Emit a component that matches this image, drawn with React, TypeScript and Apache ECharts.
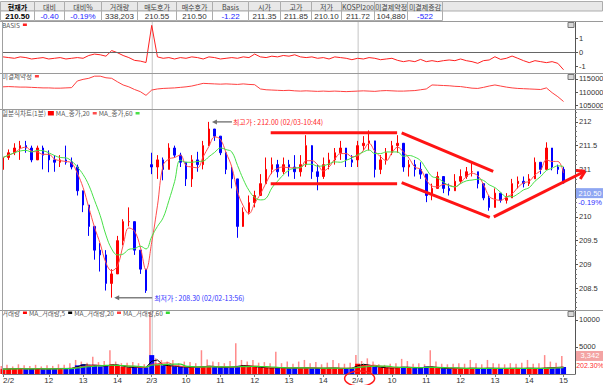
import React, { useEffect, useRef } from 'react';
import * as echarts from 'echarts';

// ---------------- categories (10-minute buckets) ----------------
const dayLabels = ['2/2', '2/3', '2/4'];
const dayFirstBar = ['10:40', '09:00', '09:00'];
const dayBarCounts = [26, 36, 37];
const emptyBars = ['2/4 15:10', '2/4 15:20'];

const xTickLabels: Record<string, string> = {
  '2/2 10:40': '2/2', '2/2 12:00': '12', '2/2 13:00': '13', '2/2 14:00': '14',
  '2/3 09:00': '2/3', '2/3 10:00': '10', '2/3 11:00': '11', '2/3 12:00': '12', '2/3 13:00': '13', '2/3 14:00': '14',
  '2/4 09:00': '2/4', '2/4 10:00': '10', '2/4 11:00': '11', '2/4 12:00': '12', '2/4 13:00': '13', '2/4 14:00': '14', '2/4 15:00': '15',
};

// ---------------- price (per day) ----------------
const dayOpen = [211.0, 211.1, 211.2];
const close22 = [211.25, 211.35, 211.45, 211.5, 211.45, 211.2, 211.45, 211.3, 211.2, 211.15, 211.2, 211.15, 211.05, 210.55, 210.25, 209.8, 209.3, 209.2, 208.6, 208.8, 209.5, 209.9, 209.9, 209.3, 208.9, 208.45];
const high22 = [211.3, 211.42, 211.55, 211.6, 211.6, 211.5, 211.5, 211.5, 211.4, 211.3, 211.3, 211.5, 211.25, 211.1, 210.55, 210.1, 209.75, 209.45, 209.3, 208.9, 209.6, 209.95, 210.2, 209.9, 209.3, 208.9];
const low22 = [210.8, 211.2, 211.3, 211.2, 211.35, 211.15, 211.2, 211.0, 210.94, 210.95, 211.05, 211.1, 211.0, 210.45, 210.1, 209.6, 209.1, 208.85, 208.45, 208.3, 208.8, 209.4, 209.8, 209.2, 208.8, 208.4];

const close23 = [211.05, 211.2, 211.0, 211.45, 211.3, 211.15, 210.8, 211.2, 211.1, 211.5, 211.85, 211.7, 211.35, 211.0, 210.8, 209.8, 210.1, 210.3, 210.45, 210.7, 211.0, 211.1, 210.95, 211.1, 211.05, 210.95, 211.1, 211.5, 210.95, 210.85, 211.1, 211.2, 211.35, 211.45, 211.2, 211.15];
const high23 = [211.35, 211.3, 211.25, 211.55, 211.5, 211.35, 211.15, 211.3, 211.37, 211.6, 212.0, 211.85, 211.7, 211.3, 211.05, 210.45, 210.2, 210.45, 210.55, 210.9, 211.25, 211.25, 211.2, 211.25, 211.2, 211.3, 211.3, 211.72, 211.45, 211.1, 211.25, 211.35, 211.45, 211.6, 211.45, 211.3];
const low23 = [210.9, 210.8, 210.77, 211.0, 211.25, 211.05, 210.65, 210.63, 210.95, 211.0, 211.55, 211.6, 211.3, 210.9, 210.6, 209.56, 209.9, 210.05, 210.2, 210.45, 210.7, 210.9, 210.83, 210.9, 210.85, 210.8, 210.85, 211.05, 210.8, 210.56, 210.8, 211.0, 211.1, 211.2, 211.05, 211.05];

const close24 = [211.5, 211.55, 211.6, 211.0, 211.2, 211.35, 211.5, 211.55, 211.05, 211.1, 211.0, 210.9, 210.45, 210.6, 210.85, 210.6, 210.55, 210.75, 210.85, 210.95, 210.95, 210.7, 210.4, 210.2, 210.5, 210.35, 210.4, 210.7, 210.75, 210.7, 210.8, 211.15, 211.0, 211.45, 211.05, 211.0, 210.72];
const high24 = [211.6, 211.7, 211.82, 211.5, 211.3, 211.45, 211.6, 211.72, 211.5, 211.2, 211.2, 211.15, 210.85, 210.7, 210.95, 210.8, 210.7, 210.9, 211.0, 211.05, 211.15, 210.95, 210.7, 210.45, 210.6, 210.5, 210.5, 210.8, 210.85, 210.85, 210.9, 211.25, 211.15, 211.57, 211.3, 211.1, 211.05];
const low24 = [211.05, 211.4, 211.4, 210.83, 210.9, 211.1, 211.3, 211.35, 210.95, 210.85, 210.85, 210.8, 210.31, 210.35, 210.7, 210.5, 210.45, 210.55, 210.7, 210.8, 210.85, 210.6, 210.35, 210.13, 210.2, 210.3, 210.28, 210.4, 210.6, 210.62, 210.65, 210.8, 210.9, 211.0, 210.98, 210.9, 210.7];

// ---------------- BASIS ----------------
const basis22 = [-0.3, -0.35, -0.4, -0.3, -0.35, -0.45, -0.4, -0.35, -0.45, -0.4, -0.35, -0.45, -0.4, -0.35, -0.4, -0.2, -0.1, -0.15, -0.25, 0.15, 0.0, -0.2, -0.35, -0.55, -0.6, -0.7];
const basis23 = [1.95, -0.3, -0.4, -0.35, -0.45, -0.35, -0.4, -0.3, -0.35, -0.45, -0.3, -0.35, -0.45, -0.4, -0.35, -0.4, -0.3, -0.35, -0.1, -0.3, -0.35, -0.25, -0.3, -0.2, -0.25, -0.15, -0.3, -0.35, -0.3, -0.4, -0.35, -0.45, -0.3, -0.35, -0.4, -0.5];
const basis24 = [-0.4, -0.45, -0.35, -0.4, -0.5, -0.45, -0.4, -0.55, -0.64, -0.57, -0.64, -0.48, -0.64, -0.57, -0.64, -0.57, -0.52, -0.57, -0.45, -0.57, -0.64, -0.76, -0.57, -0.52, -0.29, -0.48, -0.4, -0.24, -0.4, -0.57, -0.71, -0.57, -0.64, -0.71, -0.64, -0.76, -1.22];

// ---------------- open interest ----------------
const oi22 = [112000, 112100, 112000, 111900, 111900, 111800, 111700, 111600, 111600, 111500, 111500, 111600, 111700, 114200, 114800, 115200, 116000, 116000, 115400, 115200, 113900, 112700, 112000, 111000, 110200, 108800];
const oi23 = [110800, 111200, 111400, 111500, 111600, 111800, 112000, 112300, 112800, 113300, 113200, 113100, 113000, 113100, 113000, 112900, 113100, 112900, 112800, 111200, 110900, 110800, 110700, 110600, 110700, 110500, 110400, 110500, 110400, 110300, 110400, 110300, 110400, 110300, 110200, 110300];
const oi24 = [110400, 110500, 110400, 110300, 110500, 110600, 110500, 110400, 110400, 110500, 110600, 110900, 111200, 112700, 112600, 112500, 112400, 112200, 112100, 111800, 111500, 111400, 111800, 112300, 112700, 112300, 111900, 111600, 111400, 111300, 111200, 111100, 111000, 111600, 109800, 108300, 106500];

// ---------------- volume (per-minute scale) ----------------
const volBase22 = [900, 950, 1000, 1050, 900, 950, 1000, 900, 950, 1000, 1050, 1000, 1100, 1600, 1800, 1500, 1700, 1400, 1500, 1800, 1600, 1300, 1200, 1300, 1150, 1250];
const volPeak22 = [1500, 1700, 1400, 1800, 1600, 1500, 1700, 1400, 1600, 1500, 1800, 1700, 2000, 2600, 2300, 2100, 3200, 2200, 2400, 4400, 2300, 2000, 2100, 2200, 2000, 1800];
const volBase23 = [3500, 1700, 1600, 1500, 1400, 1300, 1200, 1300, 1250, 1400, 1500, 1300, 1200, 1250, 1300, 1500, 1600, 1450, 1300, 1200, 1150, 1100, 1200, 1100, 1050, 1150, 1100, 1200, 1050, 1100, 1000, 1150, 1100, 1000, 1050, 1100];
const volPeak23 = [11500, 2900, 2600, 2300, 2600, 2000, 2300, 2200, 2000, 4400, 2700, 2300, 2200, 2000, 2400, 5700, 2600, 2300, 2600, 2100, 2200, 2000, 4100, 2000, 2300, 1900, 2300, 2600, 2000, 2200, 1800, 2100, 2600, 2000, 1900, 2100];
const volBase24 = [1900, 1700, 1600, 1300, 1200, 1150, 1100, 1250, 1300, 1200, 1150, 1100, 1400, 1300, 1100, 1050, 1000, 1100, 1000, 1050, 1100, 1000, 1050, 1100, 1000, 1050, 1000, 1100, 1000, 1050, 1100, 1000, 1050, 1150, 1200, 1250, 1300];
const volPeak24 = [3500, 2400, 2900, 2300, 1800, 1700, 1900, 2000, 2800, 2400, 1900, 2000, 1800, 4400, 2300, 1900, 1800, 1900, 2000, 1900, 2600, 2000, 1800, 2600, 2000, 1900, 1800, 2000, 1900, 2100, 2600, 1900, 2000, 3500, 2300, 2100, 3342];

// ---------------- axis tick labels ----------------
const basisTicks = [-1, 0, 1];
const oiTicks = [105000, 110000, 115000];
const priceTicks = [208.5, 209, 209.5, 210, 210.5, 211, 211.5, 212];
const priceTickLabels = [208.5, 209, 209.5, 210, 211, 211.5, 212]; // 210.5 sits under the current-price box
const volTicks = [5000, 10000];

// ---------------- quote table ----------------
const tableHeaders = ['현재가', '대비', '대비%', '거래량', '매도호가', '매수호가', 'Basis', '시가', '고가', '저가', 'KOSPI200', '미결제약정', '미결제증감'];
const tableValues = ['210.50', '-0.40', '-0.19%', '338,203', '210.55', '210.50', '-1.22', '211.35', '211.85', '210.10', '211.72', '104,880', '-522'];

const lastPrice = 210.5;
const lastChangePct = '-0.19%';
const lastVolume = 3342;
const lastVolumeRatio = '202.30%';
const highNote = { text: '최고가 : 212.00 (02/03-10:44)', price: 212.0, cat: '2/3 10:40' };
const lowNote = { text: '최저가 : 208.30 (02/02-13:56)', price: 208.3, cat: '2/2 13:50' };

// trend lines drawn by hand on the chart: [catIndex, price] pairs
const trendLines: [number, number, number, number][] = [
  [46.8, 211.77, 68.9, 211.77],
  [46.8, 210.7, 68.9, 210.7],
  [69.7, 211.77, 85.7, 210.96],
  [69.7, 210.72, 85.1, 209.99],
];
const trendArrow: [number, number, number, number] = [85.8, 210.0, 101.75, 210.96];

// ---------------- helpers ----------------
function buildCategories() {
  const out: string[] = [];
  dayLabels.forEach((d, k) => {
    const [h, m] = dayFirstBar[k].split(':').map(Number);
    let t = h * 60 + m;
    for (let i = 0; i < dayBarCounts[k]; i++, t += 10) {
      out.push(`${d} ${String(Math.floor(t / 60)).padStart(2, '0')}:${String(t % 60).padStart(2, '0')}`);
    }
  });
  return out.concat(emptyBars);
}

function movingAvg(values: number[], n: number) {
  return values.map((_, i) => {
    const s = Math.max(0, i - n + 1);
    let sum = 0;
    for (let j = s; j <= i; j++) sum += values[j];
    return +(sum / (i - s + 1)).toFixed(3);
  });
}

const FONT = '"Noto Sans CJK KR", "Noto Sans", sans-serif';
const NUMFONT = '"Liberation Sans", "DejaVu Sans", sans-serif';

export default function App() {
  const ref = useRef<HTMLDivElement>(null);

  useEffect(() => {
    document.body.style.margin = '0';
    const el = ref.current!;
    const chart = echarts.init(el, undefined, { renderer: 'svg' });

    const categories = buildCategories();
    const closes = [...close22, ...close23, ...close24];
    const highs = [...high22, ...high23, ...high24];
    const lows = [...low22, ...low23, ...low24];
    const dayOfBar: number[] = [];
    dayBarCounts.forEach((c, k) => { for (let i = 0; i < c; i++) dayOfBar.push(k); });
    const opens = closes.map((_, i) => (i === 0 || dayOfBar[i] !== dayOfBar[i - 1] ? dayOpen[dayOfBar[i]] : closes[i - 1]));
    const candles = closes.map((c, i) => [opens[i], c, lows[i], highs[i]]);
    const basis = [...basis22, ...basis23, ...basis24];
    const oi = [...oi22, ...oi23, ...oi24];
    const volBase = [...volBase22, ...volBase23, ...volBase24];
    const volPeak = [...volPeak22, ...volPeak23, ...volPeak24];
    const volItems = volBase.map((v, i) => ({ value: v, itemStyle: { color: closes[i] >= opens[i] ? '#ff0000' : '#0000ff' } }));

    const tickShow = (_i: number, v: string) => xTickLabels[v] !== undefined;
    const gridCommon = { left: 3, right: 28, outerBoundsMode: 'none', containLabel: false };
    const grids = [
      { ...gridCommon, top: 22, height: 51 },
      { ...gridCommon, top: 73.5, height: 36 },
      { ...gridCommon, top: 110, height: 200 },
      { ...gridCommon, top: 310, height: 64 },
    ];
    const xAxes = [0, 1, 2, 3].map((g) => ({
      type: 'category',
      gridIndex: g,
      data: categories,
      boundaryGap: false,
      show: g === 3,
      axisLine: { show: true, lineStyle: { color: '#7a7a7a' } },
      axisTick: { show: true, interval: tickShow, length: 3, lineStyle: { color: '#7a7a7a' } },
      axisLabel: {
        show: true,
        interval: tickShow,
        formatter: (v: string) => xTickLabels[v] ?? '',
        fontSize: 8,
        fontFamily: NUMFONT,
        color: '#333',
        margin: 2,
        alignMinLabel: 'left',
      },
      splitLine: { show: false },
    }));
    const yCommon = (g: number, min: number, max: number, ticks: number[], labels: number[]) => ({
      type: 'value',
      gridIndex: g,
      position: 'right',
      min,
      max,
      scale: true,
      axisLine: { show: true, lineStyle: { color: '#555' } },
      axisTick: { show: true, length: 3, customValues: ticks, lineStyle: { color: '#555' } },
      axisLabel: { show: true, customValues: labels, formatter: (v: number) => String(v), fontSize: 7.5, fontFamily: NUMFONT, color: '#333', margin: 4 },
      splitLine: { show: false },
    });
    const minorTicks: number[] = [];
    for (let v = 2081; v <= 2122; v++) if (v % 5 !== 0) minorTicks.push(v / 10);
    const yAxes = [
      yCommon(0, -1.45, 2.19, basisTicks, basisTicks),
      yCommon(1, 103500, 117000, oiTicks, oiTicks),
      yCommon(2, 208.04, 212.25, priceTicks, priceTickLabels),
      yCommon(3, 0, 11850, volTicks, volTicks),
      {
        type: 'value', gridIndex: 2, position: 'right', min: 208.04, max: 212.25,
        axisLine: { show: false },
        axisTick: { show: true, length: 2, customValues: minorTicks, lineStyle: { color: '#777' } },
        axisLabel: { show: false },
        splitLine: { show: false },
      },
    ];

    const legendCommon = {
      orient: 'horizontal', align: 'right', icon: 'rect', itemWidth: 4, itemHeight: 2.5, itemGap: 2, padding: 0,
      selectedMode: false, left: 2,
      textStyle: { fontSize: 6.5, color: '#555', fontFamily: FONT, padding: [0, -2, 0, 0] },
    };
    const legends = [
      { ...legendCommon, top: 21.5, data: ['BASIS'] },
      { ...legendCommon, top: 73, data: ['미결제약정'] },
      { ...legendCommon, top: 110, data: ['일분식차트(1분)', 'MA_종가,20', 'MA_종가,60'] },
      { ...legendCommon, top: 309.5, data: ['거래량', 'MA_거래량,5', 'MA_거래량,20', 'MA_거래량,60'] },
    ];

    const lineSeries = (name: string, xi: number, data: number[], color: string, width = 1, extra: any = {}) => ({
      name, type: 'line', xAxisIndex: xi, yAxisIndex: xi, data, symbol: 'none',
      itemStyle: { color }, lineStyle: { color, width }, ...extra,
    });

    const option: any = {
      animation: false,
      backgroundColor: '#ffffff',
      grid: grids,
      legend: legends,
      xAxis: xAxes,
      yAxis: yAxes,
      series: [
        lineSeries('BASIS', 0, basis, '#ff2020', 1, {
          z: 3,
          markLine: { silent: true, symbol: 'none', label: { show: false }, lineStyle: { color: '#666', type: 'solid', width: 1 }, data: [{ yAxis: 0 }] },
        }),
        lineSeries('미결제약정', 1, oi, '#ff4040'),
        {
          name: '일분식차트(1분)', type: 'candlestick', xAxisIndex: 2, yAxisIndex: 2, data: candles, barWidth: 2,
          itemStyle: { color: '#ff0000', color0: '#0000ff', borderColor: '#ff0000', borderColor0: '#0000ff', borderWidth: 1 },
        },
        lineSeries('MA_종가,20', 2, movingAvg(closes, 3), '#ff4c4c', 1, { smooth: 0.4, z: 3 }),
        lineSeries('MA_종가,60', 2, movingAvg(closes, 6), '#48e048', 1, { smooth: 0.4, z: 3 }),
        { name: '거래량최대', type: 'bar', xAxisIndex: 3, yAxisIndex: 3, data: volPeak, barWidth: 1.5, barGap: '-100%', itemStyle: { color: '#ff8a8a' } },
        { name: '거래량', type: 'bar', xAxisIndex: 3, yAxisIndex: 3, data: volItems, barWidth: 5, barGap: '-100%', itemStyle: { color: '#ff0000' } },
        lineSeries('MA_거래량,5', 3, movingAvg(volBase, 2), '#000000'),
        lineSeries('MA_거래량,20', 3, movingAvg(volBase, 4), '#ff4040'),
        lineSeries('MA_거래량,60', 3, movingAvg(volBase, 6), '#30d830', 1.2, { smooth: 0.4 }),
      ],
    };
    chart.setOption(option);

    // ---------- overlays positioned through the chart's own scales ----------
    const P = (i: number, v: number) => chart.convertToPixel({ seriesIndex: 2 }, [i, v]) as number[];
    const x0 = P(0, 210)[0];
    const x100 = P(100, 210)[0];
    const X = (i: number) => x0 + ((x100 - x0) * i) / 100;
    const Y = (v: number) => P(0, v)[1];
    const VY = (v: number) => (chart.convertToPixel({ seriesIndex: 6 }, [0, v]) as number[])[1];

    const G: any[] = [];
    const txt = (x: number, y: number, t: string, fill: string, size = 8, align = 'left', weight = 'normal', fam = FONT, z = 100) => ({
      type: 'text', x, y, silent: true, z,
      style: { text: t, fill, font: `${weight} ${size}px ${fam}`, textAlign: align, align, textVerticalAlign: 'middle', verticalAlign: 'middle' },
    });
    const ln = (x1: number, y1: number, x2: number, y2: number, stroke: string, w = 1, z = 100) => ({
      type: 'line', silent: true, z, shape: { x1, y1, x2, y2 }, style: { stroke, lineWidth: w },
    });
    const box = (x: number, y: number, w: number, h: number, fill: string, stroke?: string, z = 99) => ({
      type: 'polygon', silent: true, z,
      shape: { points: [[x, y], [x + w, y], [x + w, y + h], [x, y + h]] },
      style: stroke ? { fill, stroke, lineWidth: 1 } : { fill },
    });

    // quote table
    const colEdges = [0, 34, 64, 101, 137, 176, 212, 248, 280, 311, 341, 374, 407, 442];
    G.push(box(442.5, 1.5, 160, 9.5, '#e8e8e8', '#adadad'));
    tableHeaders.forEach((h, i) => {
      const a = colEdges[i] + 0.5, b = colEdges[i + 1] + 0.5;
      G.push(box(a, 1.5, b - a, 9.5, '#e8e8e8', '#adadad'));
      G.push(box(a, 11, b - a, 9.5, '#ffffff', '#adadad'));
      G.push(txt((a + b) / 2, 6.5, h, i === 0 ? '#000' : '#444', 7, 'center', i === 0 ? 'bold' : 'normal'));
      const blue = [1, 2, 6, 12].includes(i);
      G.push(txt((a + b) / 2, 16, tableValues[i], i === 0 ? '#000' : blue ? '#2323ff' : '#333', 8, 'center', i === 0 ? 'bold' : 'normal', NUMFONT));
    });

    // panel frame lines
    [21.5, 73.5, 109.5, 310.5].forEach((y) => G.push(ln(0, y, 603, y, '#9a9a9a', 1, 90)));
    G.push(ln(2.5, 21.5, 2.5, 374.5, '#a0a0a0', 1, 90));
    // day separators
    [26, 62].forEach((i) => G.push(ln(X(i) + 0.5, 22, X(i) + 0.5, 374, '#c4c4c4', 1, 1)));

    // panel icons
    [[568, 22.5], [568, 74.5], [568, 311.5]].forEach(([x, y]) => G.push(box(x, y, 6, 5, '#d8d8d8', '#777', 101)));

    // hand-drawn trend lines
    trendLines.forEach(([i1, p1, i2, p2]) => G.push(ln(X(i1), Y(p1), X(i2), Y(p2), '#ff1414', 3, 110)));
    {
      const [i1, p1, i2, p2] = trendArrow;
      const ax = X(i1), ay = Y(p1), bx = X(i2), by = Y(p2);
      G.push(ln(ax, ay, bx, by, '#ff1414', 3, 110));
      const ang = Math.atan2(by - ay, bx - ax);
      const L = 9;
      [0.55, -0.55].forEach((d) => G.push(ln(bx, by, bx - L * Math.cos(ang + d), by - L * Math.sin(ang + d), '#ff1414', 3, 110)));
    }

    // high / low notes
    const hi = categories.indexOf(highNote.cat);
    const hx = X(hi) + 2, hy = Y(highNote.price);
    G.push(ln(hx + 3, hy, hx + 21, hy, '#808080', 1.5, 105));
    G.push({ type: 'polygon', silent: true, z: 105, shape: { points: [[hx + 1, hy], [hx + 6, hy - 2.5], [hx + 6, hy + 2.5]] }, style: { fill: '#707070' } });
    G.push(txt(hx + 22, hy, highNote.text, '#ff2a2a', 7));
    const lo = categories.indexOf(lowNote.cat);
    const lx = X(lo) + 1.5, ly = Y(lowNote.price);
    G.push(ln(lx + 3, ly, lx + 39, ly, '#808080', 1.5, 105));
    G.push({ type: 'polygon', silent: true, z: 105, shape: { points: [[lx + 1, ly], [lx + 6, ly - 2.5], [lx + 6, ly + 2.5]] }, style: { fill: '#707070' } });
    G.push(txt(lx + 41, ly, lowNote.text, '#3030ff', 7));

    // current price / volume boxes on the right axis
    const rx = x100 + 1;
    const py = Y(lastPrice);
    G.push(box(rx, py - 5, 603 - rx, 10, '#8ea6f2', undefined, 120));
    G.push(txt(rx + 14, py, lastPrice.toFixed(2), '#ffffff', 7.5, 'center', 'normal', NUMFONT, 121));
    G.push(txt(rx + 14, py + 9.5, lastChangePct, '#2f2fff', 7.5, 'center', 'normal', NUMFONT, 121));
    const vy = VY(lastVolume);
    G.push(box(rx, vy - 5, 603 - rx, 10, '#f3a3a3', undefined, 120));
    G.push(txt(rx + 14, vy, lastVolume.toLocaleString('en-US'), '#ffffff', 7.5, 'center', 'normal', NUMFONT, 121));
    G.push(txt(rx + 14, vy + 9.5, lastVolumeRatio, '#ff3030', 7, 'center', 'normal', NUMFONT, 121));

    // circled day label
    G.push({ type: 'ellipse', silent: true, z: 120, shape: { cx: X(62) + 2, cy: 378.5, rx: 15, ry: 7.5 }, style: { fill: 'none', stroke: '#ff1a1a', lineWidth: 1.5 } });

    chart.setOption({ graphic: G });
    return () => chart.dispose();
  }, []);

  return <div ref={ref} style={{ width: 603, height: 385, position: 'absolute', left: 0, top: 0, background: '#fff' }} />;
}
